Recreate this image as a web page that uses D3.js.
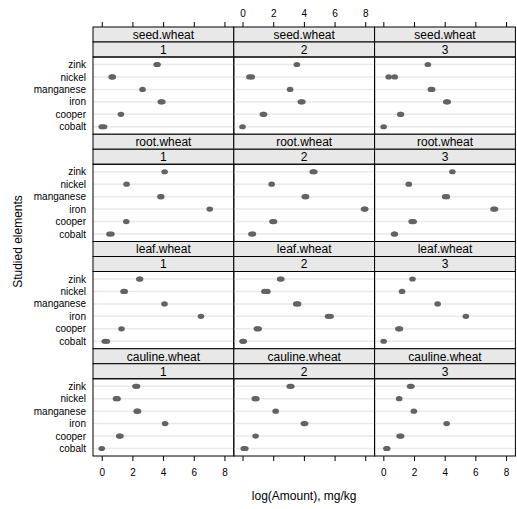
<!DOCTYPE html>
<html>
<head>
<meta charset="utf-8">
<script src="https://cdn.jsdelivr.net/npm/d3@7"></script>
<style>
    body { margin: 0; background: #fff; }
    text { font-family: "Liberation Sans", Arial, sans-serif; }
</style>
</head>
<body>
<div id="chart"></div>
<script>
// values, replicates per element (bottom to top)
var elements = ["cobalt", "cooper", "iron", "manganese", "nickel", "zink"];
var parts = ["seed.wheat", "root.wheat", "leaf.wheat", "cauline.wheat"];
var groups = ["1", "2", "3"];
var xTicks = [0, 2, 4, 6, 8];

var seedWheat = [
    [[0.0, 0.15], [1.25], [3.85, 3.95], [2.66], [0.65, 0.72], [3.58, 3.64]],
    [[0.0], [1.33, 1.4], [3.8, 3.9], [3.1], [0.45, 0.6], [3.54]],
    [[0.02], [1.1, 1.15], [4.1, 4.2], [3.1, 3.18], [0.35, 0.74], [2.9]]
];
var rootWheat = [
    [[0.5, 0.63], [1.6], [7.04], [3.83, 3.88], [1.62], [4.1]],
    [[0.58, 0.68], [1.95, 2.05], [7.92, 8.0], [4.06, 4.14], [1.9], [4.58, 4.68]],
    [[0.7, 0.75], [1.85, 1.98], [7.18, 7.28], [4.03, 4.14], [1.66], [4.5]]
];
var leafWheat = [
    [[0.2, 0.33], [1.29], [6.47], [4.09], [1.42, 1.5], [2.45, 2.5]],
    [[0.0, 0.08], [0.93, 1.05], [5.58, 5.74], [3.5, 3.62], [1.43, 1.62], [2.45, 2.53]],
    [[0.02], [0.98, 1.08], [5.38], [3.54], [1.22], [1.9]]
];
var caulineWheat = [
    [[0.0], [1.14, 1.22], [4.13], [2.28, 2.36], [0.93, 1.03], [2.2, 2.3]],
    [[0.08, 0.18], [0.85], [4.0, 4.08], [2.16], [0.8, 0.9], [3.08, 3.18]],
    [[0.2, 0.25], [1.06, 1.16], [4.13], [1.99], [1.03], [1.75, 1.83]]
];

(function () {
    "use strict";

    var rows = [seedWheat, rootWheat, leafWheat, caulineWheat];

    var W = 517, H = 509;
    var left = 93, top = 27;
    var pw = 140.8;      // panel width
    var rh = 107.25;     // full row height (2 strips + panel)
    var sh = 15;         // strip height
    var ph = rh - 2 * sh;

    var svg = d3.select("#chart").append("svg")
        .attr("width", W)
        .attr("height", H);

    var x = d3.scaleLinear().domain([-0.57, 8.61]).range([0, pw]);
    var y = d3.scaleLinear().domain([0.4, 6.6]).range([ph, 0]);

    rows.forEach(function (row, r) {
        row.forEach(function (col, c) {
            var g = svg.append("g")
                .attr("transform", "translate(" + (left + c * pw) + "," + (top + r * rh) + ")");

            // the two strips
            [parts[r], groups[c]].forEach(function (label, s) {
                g.append("rect")
                    .attr("x", 0).attr("y", s * sh)
                    .attr("width", pw).attr("height", sh)
                    .attr("fill", "#e8e8e8")
                    .attr("stroke", "#000").attr("stroke-width", 1);
                g.append("text")
                    .attr("x", pw / 2).attr("y", s * sh + sh / 2)
                    .attr("dy", "0.36em")
                    .attr("text-anchor", "middle")
                    .attr("font-size", 12)
                    .text(label);
            });

            var p = g.append("g").attr("transform", "translate(0," + 2 * sh + ")");

            // reference lines
            p.selectAll("line.ref")
                .data(elements)
                .enter()
                .append("line")
                .attr("class", "ref")
                .attr("x1", 0).attr("x2", pw)
                .attr("y1", function (d, i) { return y(i + 1); })
                .attr("y2", function (d, i) { return y(i + 1); })
                .attr("stroke", "#e9e9e9")
                .attr("stroke-width", 1.5);

            // points (slightly wide, like the original)
            var pts = [];
            col.forEach(function (reps, i) {
                reps.forEach(function (v) { pts.push({ v: v, i: i }); });
            });
            p.selectAll("ellipse")
                .data(pts)
                .enter()
                .append("ellipse")
                .attr("cx", function (d) { return x(d.v); })
                .attr("cy", function (d) { return y(d.i + 1); })
                .attr("rx", 3.3)
                .attr("ry", 2.6)
                .attr("fill", "#636363");

            p.append("rect")
                .attr("width", pw).attr("height", ph)
                .attr("fill", "none")
                .attr("stroke", "#000").attr("stroke-width", 1);

            // y labels on first column
            if (c === 0) {
                p.selectAll("text.lab")
                    .data(elements)
                    .enter()
                    .append("text")
                    .attr("class", "lab")
                    .attr("x", -7)
                    .attr("y", function (d, i) { return y(i + 1); })
                    .attr("dy", "0.36em")
                    .attr("text-anchor", "end")
                    .attr("font-size", 10)
                    .text(function (d) { return d; });
            }

            // top axis on first row, bottom axis on last row
            if (r === 0) {
                var ta = d3.axisTop(x).tickValues(xTicks).tickSize(5).tickSizeOuter(0).tickPadding(5)
                    .tickFormat(c === 1 ? d3.format("d") : "");
                var tg = g.append("g").call(ta);
                tg.select(".domain").remove();
                tg.selectAll("text").attr("font-size", 10).attr("font-family", null);
            }
            if (r === rows.length - 1) {
                var ba = d3.axisBottom(x).tickValues(xTicks).tickSize(5).tickSizeOuter(0).tickPadding(8)
                    .tickFormat(c !== 1 ? d3.format("d") : "");
                var bg = p.append("g").attr("transform", "translate(0," + ph + ")").call(ba);
                bg.select(".domain").remove();
                bg.selectAll("text").attr("font-size", 10).attr("font-family", null);
            }
        });
    });

    // axis titles
    svg.append("text")
        .attr("x", left + 1.5 * pw)
        .attr("y", 500)
        .attr("text-anchor", "middle")
        .attr("font-size", 12)
        .text("log(Amount), mg/kg");

    svg.append("text")
        .attr("transform", "translate(22," + (top + 2 * rh) + ") rotate(-90)")
        .attr("text-anchor", "middle")
        .attr("font-size", 12)
        .text("Studied elements");
})();
</script>
</body>
</html>
